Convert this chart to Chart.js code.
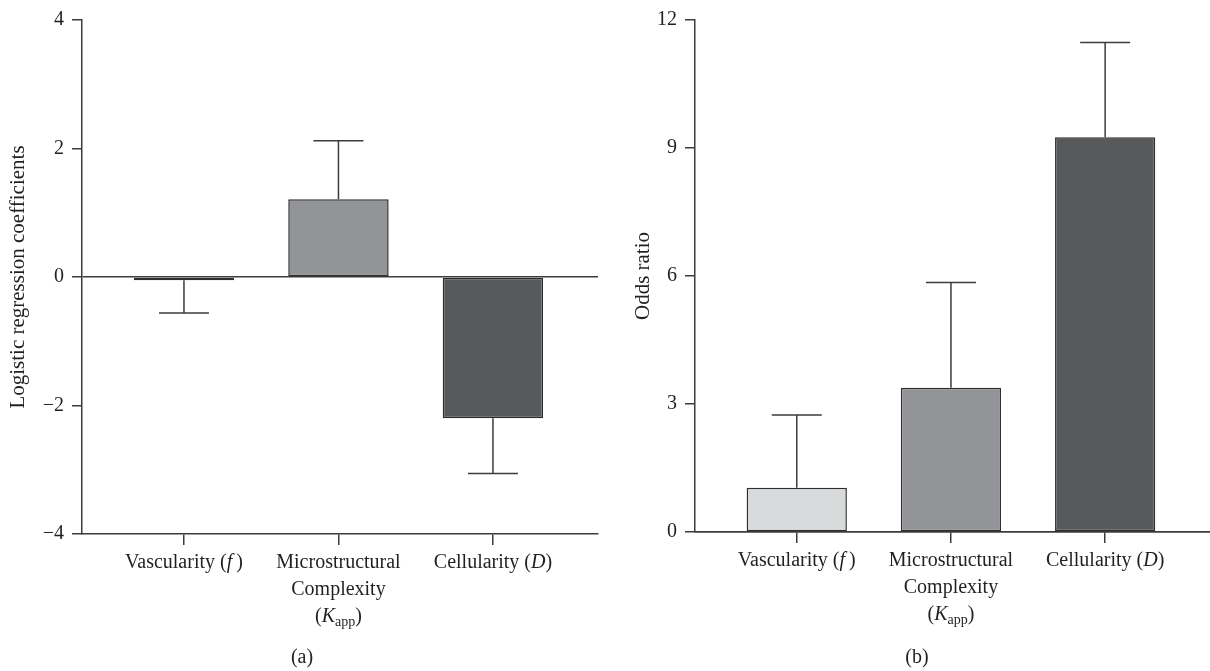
<!DOCTYPE html>
<html>
<head>
<meta charset="utf-8">
<script src="https://cdn.jsdelivr.net/npm/chart.js@4.4.1/dist/chart.umd.min.js"></script>
<style>
  body { margin: 0; background: #fff; }
  .panel { position: absolute; top: 0; width: 605px; height: 671px; }
</style>
</head>
<body>
<div class="panel" style="left:0"><canvas id="graphA" width="605" height="671"></canvas></div>
<div class="panel" style="left:605px"><canvas id="graphB" width="605" height="671"></canvas></div>
<script>
// data
var categories = ['Vascularity (f)', 'Microstructural Complexity (Kapp)', 'Cellularity (D)'];
var coefValues = [-0.05, 1.21, -2.2];
var coefErrEnds = [-0.56, 2.12, -3.06];
var oddsValues = [1.04, 3.38, 9.25];
var oddsErrEnds = [2.74, 5.85, 11.47];
var coefTicks = [-4, -2, 0, 2, 4];
var oddsTicks = [0, 3, 6, 9, 12];
var barColors = ['#d9dadc', '#939498', '#58595b'];

// label lines with italic / subscript parts
var labelLines = [
    [[{t: 'Vascularity ('}, {t: 'f', i: true}, {t: '\u2009)'}]],
    [[{t: 'Microstructural'}], [{t: 'Complexity'}], [{t: '('}, {t: 'K', i: true}, {t: 'app', sub: true}, {t: ')'}]],
    [[{t: 'Cellularity ('}, {t: 'D', i: true}, {t: ')'}]]
];

var FONT = '"Liberation Serif", "DejaVu Serif", serif';
var INK = '#231f20';
var LINE = '#3c3c3c';

function fmtMinus(v) {
    return v < 0 ? '\u2212' + Math.abs(v) : '' + v;
}

// error bars drawn from the bar value to the end value
var errorBars = {
    id: 'errorBars',
    afterDatasetsDraw: function(chart, args, opts) {
        var ctx = chart.ctx;
        var y = chart.scales.y;
        var meta = chart.getDatasetMeta(0);
        ctx.save();
        ctx.strokeStyle = LINE;
        ctx.lineWidth = 1.5;
        meta.data.forEach(function(bar, i) {
            var yEnd = y.getPixelForValue(opts.ends[i]);
            ctx.beginPath();
            ctx.moveTo(bar.x, bar.y);
            ctx.lineTo(bar.x, yEnd);
            ctx.moveTo(bar.x - 25, yEnd);
            ctx.lineTo(bar.x + 25, yEnd);
            ctx.stroke();
        });
        ctx.restore();
    }
};

// category labels under the x axis + panel letter
var catLabels = {
    id: 'catLabels',
    afterDraw: function(chart, args, opts) {
        var ctx = chart.ctx;
        var x = chart.scales.x;
        var base = chart.chartArea.bottom + 29;
        ctx.save();
        ctx.fillStyle = INK;
        ctx.textBaseline = 'middle';
        ctx.textAlign = 'left';
        labelLines.forEach(function(lines, i) {
            var cx = x.getPixelForValue(i + 1);
            lines.forEach(function(segs, j) {
                var yy = base + j * 27;
                var widths = segs.map(function(s) {
                    ctx.font = (s.i ? 'italic ' : '') + (s.sub ? 14 : 20) + 'px ' + FONT;
                    return ctx.measureText(s.t).width;
                });
                var total = widths.reduce(function(a, b) { return a + b; }, 0);
                var px = cx - total / 2;
                segs.forEach(function(s, k) {
                    ctx.font = (s.i ? 'italic ' : '') + (s.sub ? 14 : 20) + 'px ' + FONT;
                    ctx.fillText(s.t, px, yy + (s.sub ? 5 : 0));
                    px += widths[k];
                });
            });
        });
        ctx.font = '20px ' + FONT;
        ctx.textAlign = 'center';
        ctx.fillText(opts.letter, opts.letterX, 658);
        ctx.restore();
    }
};

function graphiqueBarres(Id, values, errEnds, ticks, titre, opts) {
    var ctx = document.getElementById(Id).getContext('2d');
    var points = values.map(function(v, i) { return {x: i + 1, y: v}; });
    return new Chart(ctx, {
        type: 'bar',
        data: {
            datasets: [{
                data: points,
                backgroundColor: barColors,
                borderColor: '#2e2e2e',
                borderWidth: 1.5,
                borderSkipped: false,
                barPercentage: 0.65,
                categoryPercentage: 1
            }]
        },
        options: {
            responsive: false,
            animation: false,
            layout: { padding: { top: opts.top, right: opts.right, bottom: opts.bottom, left: 0 } },
            plugins: {
                legend: { display: false },
                tooltip: { enabled: false },
                errorBars: { ends: errEnds },
                catLabels: { letter: opts.letter, letterX: opts.letterX }
            },
            scales: {
                x: {
                    type: 'linear',
                    offset: false,
                    min: 0.34,
                    max: 3.68,
                    afterBuildTicks: function(s) {
                        s.ticks = categories.map(function(c, i) { return {value: i + 1}; });
                    },
                    ticks: { display: false },
                    grid: { offset: false, drawOnChartArea: false, tickLength: 11, tickColor: LINE, lineWidth: 1.5 },
                    border: { color: LINE, width: 1.5 }
                },
                y: {
                    min: ticks[0],
                    max: ticks[ticks.length - 1],
                    afterBuildTicks: function(s) {
                        s.ticks = ticks.map(function(v) { return {value: v}; });
                    },
                    afterFit: function(s) { s.width = opts.axisX; },
                    ticks: {
                        padding: 8,
                        color: INK,
                        font: { family: FONT, size: 20 },
                        callback: function(v) { return fmtMinus(v); }
                    },
                    grid: {
                        color: function(c) { return c.tick && c.tick.value === 0 ? LINE : 'rgba(0,0,0,0)'; },
                        tickColor: LINE,
                        tickLength: 10,
                        lineWidth: 1.5
                    },
                    border: { color: LINE, width: 1.5 },
                    title: {
                        display: true,
                        text: titre,
                        color: INK,
                        font: { family: FONT, size: 21 },
                        padding: { top: opts.titlePad, bottom: 0 }
                    }
                }
            }
        },
        plugins: [errorBars, catLabels]
    });
}

graphiqueBarres('graphA', coefValues, coefErrEnds, coefTicks, 'Logistic regression coefficients',
    { top: 19, right: 7, bottom: 126, axisX: 82, titlePad: 6, letter: '(a)', letterX: 302 });
graphiqueBarres('graphB', oddsValues, oddsErrEnds, oddsTicks, 'Odds ratio',
    { top: 16, right: 0, bottom: 128, axisX: 90, titlePad: 26, letter: '(b)', letterX: 312 });
</script>
</body>
</html>
